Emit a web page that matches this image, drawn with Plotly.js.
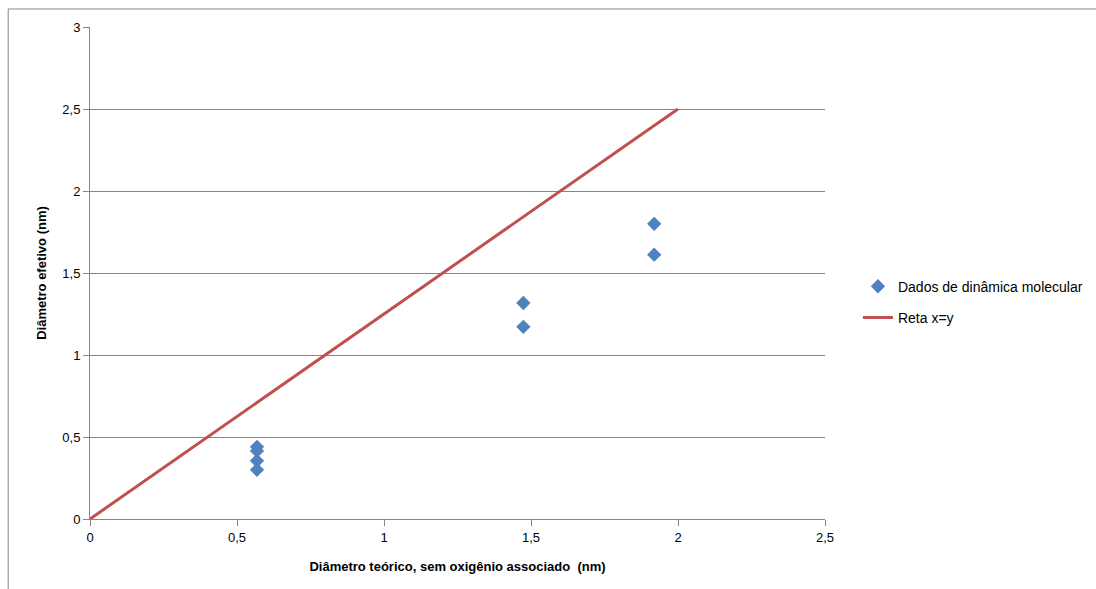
<!DOCTYPE html>
<html><head><meta charset="utf-8">
<script src="https://cdn.plot.ly/plotly-3.0.1.min.js"></script>
<style>html,body{margin:0;padding:0;background:#fff}#c{width:1096px;height:589px}</style>
</head><body><div id="c"></div>
<script>
const pointsX = [0.568, 0.568, 0.568, 0.568, 1.474, 1.474, 1.919, 1.919];
const pointsY = [0.44, 0.415, 0.355, 0.30, 1.317, 1.172, 1.80, 1.612];
const lineX = [0, 2];
const lineY = [0, 2.5];
const xTicks = [0, 0.5, 1, 1.5, 2, 2.5];
const xTickText = ["0", "0,5", "1", "1,5", "2", "2,5"];
const yTicks = [0, 0.5, 1, 1.5, 2, 2.5, 3];
const yTickText = ["0", "0,5", "1", "1,5", "2", "2,5", "3"];

const font = "Liberation Sans, Arial, sans-serif";
const traces = [
  {x: pointsX, y: pointsY, type: 'scatter', mode: 'markers', name: 'Dados de dinâmica molecular',
   legendgroup: 'a', marker: {symbol: 'diamond', size: 11, color: '#4F81BD'}},
  {x: lineX, y: lineY, type: 'scatter', mode: 'lines', name: 'Reta x=y',
   legendgroup: 'b', line: {color: '#C0504D', width: 3}}
];
const layout = {
  width: 1096, height: 589,
  margin: {l: 90, r: 271, t: 27, b: 70},
  paper_bgcolor: '#fff', plot_bgcolor: '#fff',
  font: {family: font, size: 13, color: '#000'},
  showlegend: true,
  legend: {xref: 'container', yref: 'container', x: 0.7828, y: 0.487, xanchor: 'left', yanchor: 'middle',
    font: {size: 14, family: font}, traceorder: 'grouped', tracegroupgap: 10},
  xaxis: {range: [0, 2.5], tickvals: xTicks, ticktext: xTickText, showgrid: false, zeroline: false,
    showline: true, linecolor: '#868686', linewidth: 1, ticks: 'outside', ticklen: 6, tickcolor: '#868686',
    tickfont: {size: 13}, title: {text: '<b>Diâmetro teórico, sem oxigênio associado  (nm)</b>', font: {size: 13}, standoff: 18}},
  yaxis: {range: [0, 3], tickvals: yTicks, ticktext: yTickText, showgrid: true, gridcolor: '#868686', gridwidth: 1, zeroline: false,
    showline: true, linecolor: '#868686', linewidth: 1, ticks: 'outside', ticklen: 6, tickcolor: '#868686',
    tickfont: {size: 13}, title: {text: '<b>Diâmetro efetivo (nm)</b>', font: {size: 13}, standoff: 12}},
  shapes: [
    {type: 'line', xref: 'paper', yref: 'paper', x0: -0.1113, x1: -0.1113, y0: 1.0366, y1: -0.15, line: {color: '#868686', width: 1}},
    {type: 'line', xref: 'paper', yref: 'paper', x0: -0.1113, x1: 1.4, y0: 1.0366, y1: 1.0366, line: {color: '#868686', width: 1}}]
};
Plotly.newPlot('c', traces, layout, {displayModeBar: false, staticPlot: true});
</script></body></html>
